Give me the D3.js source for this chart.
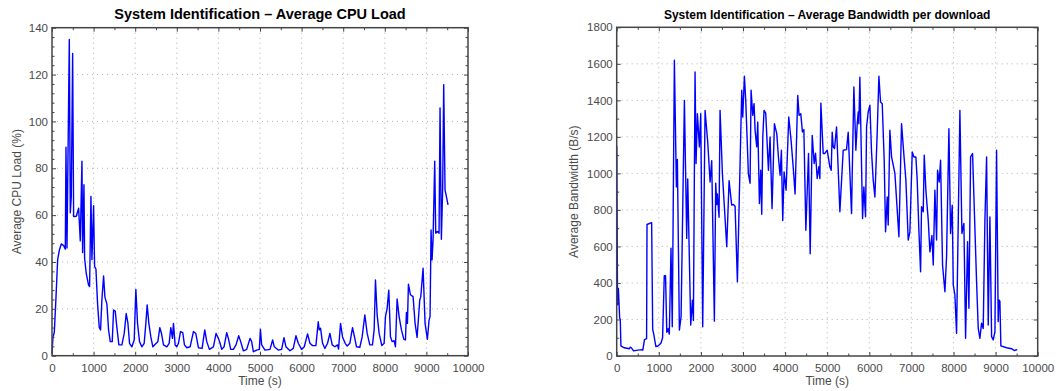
<!DOCTYPE html>
<html>
<head>
<meta charset="utf-8">
<script src="https://cdn.jsdelivr.net/npm/d3@7"></script>
<style>
  body { margin: 0; background: #fff; }
  text { font-family: "Liberation Sans", Arial, Helvetica, sans-serif; }
</style>
</head>
<body>
<svg id="chart" width="1061" height="391"></svg>
<script>
// CPU load samples (time s, load %)
const cpuTime = [0,24,56,96,136,176,224,280,320,336,360,416,440,464,496,520,584,640,680,720,736,768,784,824,880,904,936,960,1000,1024,1056,1096,1136,1168,1200,1240,1272,1320,1360,1400,1448,1480,1520,1560,1608,1680,1736,1784,1824,1864,1920,1976,2016,2056,2104,2160,2216,2256,2288,2328,2376,2424,2488,2544,2592,2632,2680,2760,2816,2856,2896,2920,2960,3000,3040,3088,3144,3184,3240,3320,3400,3456,3520,3608,3672,3720,3784,3880,3944,4000,4040,4080,4136,4200,4240,4296,4360,4424,4488,4536,4600,4680,4760,4800,4840,4920,4984,5010,5040,5120,5240,5304,5344,5440,5520,5576,5624,5720,5800,5864,5920,6000,6064,6144,6200,6264,6344,6400,6424,6456,6504,6560,6624,6680,6736,6800,6864,6888,6936,6984,7048,7096,7160,7224,7272,7320,7400,7456,7520,7576,7640,7704,7744,7776,7816,7864,7928,7984,8016,8056,8096,8136,8176,8224,8256,8296,8344,8400,8456,8496,8520,8544,8568,8616,8680,8728,8776,8840,8864,8920,8968,9024,9064,9088,9112,9136,9160,9200,9224,9264,9304,9328,9360,9392,9416,9448,9480,9520];
const cpuLoad = [1,8,10,25,41,45,47.7,47,45.5,89,46,135,61,68,129,59.4,59.5,63,49,83,44,73,41.6,35,30,29.5,68,41,64,38,37,22,12,11,24,34,25,22,11,6,6,19.5,19,12,4.6,4.6,9.5,18,14,5.3,3.8,6.7,28.3,13.8,6,3.8,5.3,13.8,21.7,13.8,8,3.8,5,6,12,9.5,4.6,3.8,5.3,12,7.4,13.8,4.6,3.8,5.3,10.3,9.8,4.6,3.4,3.8,10.3,9.5,3.4,3.1,11,6,2.7,3.8,9.5,7.4,5.3,2.7,3.8,9.8,7.4,2.7,2.7,4.6,8.5,6,2.1,2.7,7.4,6,1.7,2.4,2.7,11.3,4.6,2.4,2.7,6.7,3.8,2.4,2.7,7.7,3.8,2.1,3.1,8.5,5.3,2.7,3.8,9.3,5.3,4.3,4.3,14.5,11,11.7,5.3,3.1,5.3,9.5,4.6,3.8,4.6,2.8,13.8,8,5.3,4.1,5.3,12,8,3.8,3.6,8,17.4,9.5,4.6,4.6,11,32.3,17.4,9.5,4.3,5.3,16.7,20.2,28,8.1,6,6.4,3.8,24.2,16.7,11,7.1,6.7,18.5,13.8,30.5,26,25.2,13.8,7.8,23.8,25,37.3,13.8,7,15.2,16.7,53.7,40.9,49.4,83,52.3,53,52.3,105.7,49.7,72,115.7,70.8,68,64.4];

// Bandwidth samples (time s, B/s)
const bwTime = [0,20,40,70,85,100,180,300,320,350,400,500,600,620,660,710,720,830,855,880,930,980,1050,1090,1130,1160,1190,1220,1250,1290,1320,1370,1418,1441,1489,1529,1608,1663,1687,1758,1798,1822,1861,1885,1917,1964,1996,2043,2099,2162,2218,2257,2320,2352,2376,2392,2431,2455,2511,2614,2669,2732,2772,2812,2867,2970,2994,3033,3065,3128,3168,3192,3231,3263,3287,3326,3350,3390,3421,3445,3470,3500,3540,3604,3643,3690,3746,3802,3841,3881,3912,3944,3976,4023,4087,4142,4198,4237,4300,4332,4372,4411,4446,4493,4556,4596,4644,4691,4723,4762,4802,4826,4850,4905,4945,4968,5000,5063,5095,5119,5143,5174,5222,5301,5380,5459,5499,5578,5594,5634,5681,5713,5737,5752,5776,5840,5871,5911,5935,5974,6014,6053,6093,6133,6188,6228,6267,6307,6354,6386,6426,6449,6489,6529,6608,6703,6766,6822,6869,6924,6964,7020,7059,7107,7138,7178,7218,7241,7281,7305,7344,7400,7440,7487,7519,7558,7598,7622,7661,7693,7740,7796,7835,7891,7930,7970,7994,8033,8073,8152,8200,8247,8287,8334,8366,8406,8453,8548,8588,8627,8667,8706,8746,8786,8825,8865,8905,8944,8984,9023,9062,9078,9102,9125,9261,9380,9443,9514];
const bwRate = [1150,280,370,210,200,55,45,40,48,45,28,32,35,32,90,95,720,730,145,120,52,55,70,100,440,440,130,150,120,590,160,1620,926,1076,142,215,1400,644,970,170,306,195,1555,1054,1327,1145,1327,160,1345,1172,953,1070,191,946,830,887,760,1345,998,598,960,826,830,820,407,1455,1309,1532,1400,998,946,1455,1318,1382,1236,1145,1281,835,1017,776,1199,1345,1330,1017,1199,808,1272,1218,1090,990,1127,742,1008,908,1309,1181,1017,887,1427,1318,1327,1227,1240,689,1109,560,1208,1054,1110,972,1036,972,1385,1109,1109,1118,1127,1036,1017,1225,1145,1136,1254,790,1127,1130,1225,780,990,1473,1127,1272,1336,1272,1527,753,926,762,1254,1336,1373,1118,963,871,1225,1532,1391,1382,1072,680,871,717,1236,1090,1000,653,1272,1100,963,635,680,1118,1090,1090,963,689,461,817,790,1100,908,744,570,660,498,908,635,1017,953,1072,498,352,544,1245,671,826,389,334,124,1345,671,726,97,626,261,1090,1109,407,151,97,179,151,744,1090,170,762,106,88,133,1127,188,307,300,55,45,40,30,35];

const xTicks = [0,1000,2000,3000,4000,5000,6000,7000,8000,9000,10000];
const cpuTicks = [0,20,40,60,80,100,120,140];
const bwTicks = [0,200,400,600,800,1000,1200,1400,1600,1800];

const svg = d3.select("#chart");

function drawPanel(opt) {
  const x = d3.scaleLinear().domain([0, 10000]).range([opt.left, opt.right]);
  const y = d3.scaleLinear().domain([0, opt.yMax]).range([opt.bottom, opt.top]);
  const g = svg.append("g");

  // grid
  g.append("g").selectAll("line").data(xTicks.slice(1, -1)).join("line")
    .attr("x1", d => x(d)).attr("x2", d => x(d))
    .attr("y1", opt.top).attr("y2", opt.bottom)
    .attr("stroke", "#9a9a9a").attr("stroke-width", 0.8).attr("stroke-dasharray", "1,4");
  g.append("g").selectAll("line").data(opt.yTicks.slice(1, -1)).join("line")
    .attr("y1", d => y(d)).attr("y2", d => y(d))
    .attr("x1", opt.left).attr("x2", opt.right)
    .attr("stroke", "#9a9a9a").attr("stroke-width", 0.8).attr("stroke-dasharray", "1,4");

  // series
  g.append("path")
    .datum(d3.zip(opt.xs, opt.ys))
    .attr("fill", "none")
    .attr("stroke", "#0000ff")
    .attr("stroke-width", 1.4)
    .attr("stroke-linejoin", "round")
    .attr("d", d3.line().x(d => x(d[0])).y(d => y(d[1])));

  const xMinor = d3.range(500, 10000, 1000);
  const yMinor = d3.range(0, opt.yMax + 1e-9, opt.yMinor).filter(v => !opt.yTicks.includes(v));
  const fmt = d3.format("d");

  // axes (ticks inward)
  const axes = [
    [d3.axisBottom(x).tickValues(xTicks).tickSize(-4).tickPadding(8).tickFormat(fmt), `translate(0,${opt.bottom})`],
    [d3.axisBottom(x).tickValues(xMinor).tickSize(-2.5).tickFormat(""), `translate(0,${opt.bottom})`],
    [d3.axisTop(x).tickValues(xTicks).tickSize(-4).tickFormat(""), `translate(0,${opt.top})`],
    [d3.axisTop(x).tickValues(xMinor).tickSize(-2.5).tickFormat(""), `translate(0,${opt.top})`],
    [d3.axisLeft(y).tickValues(opt.yTicks).tickSize(-4).tickPadding(4).tickFormat(fmt), `translate(${opt.left},0)`],
    [d3.axisLeft(y).tickValues(yMinor).tickSize(-2.5).tickFormat(""), `translate(${opt.left},0)`],
    [d3.axisRight(y).tickValues(opt.yTicks).tickSize(-4).tickFormat(""), `translate(${opt.right},0)`],
    [d3.axisRight(y).tickValues(yMinor).tickSize(-2.5).tickFormat(""), `translate(${opt.right},0)`]
  ];
  axes.forEach(([ax, tr]) => {
    const a = g.append("g").attr("transform", tr).call(ax);
    a.select(".domain").remove();
    a.selectAll("line").attr("stroke", "#444").attr("stroke-width", 1);
    a.selectAll("text").attr("fill", "#4a4a4a").attr("font-size", 11.5)
      .attr("font-family", "'Liberation Sans', Arial, sans-serif");
  });

  g.append("rect")
    .attr("x", opt.left).attr("y", opt.top)
    .attr("width", opt.right - opt.left).attr("height", opt.bottom - opt.top)
    .attr("fill", "none").attr("stroke", "#444").attr("stroke-width", 1.5);

  g.append("text")
    .attr("x", (opt.left + opt.right) / 2).attr("y", 18.5)
    .attr("text-anchor", "middle").attr("font-weight", "bold")
    .attr("font-size", opt.titleSize).attr("fill", "#000")
    .text(opt.title);

  g.append("text")
    .attr("x", (opt.left + opt.right) / 2).attr("y", 385)
    .attr("text-anchor", "middle").attr("font-size", 12).attr("fill", "#4a4a4a")
    .text("Time (s)");

  g.append("text")
    .attr("transform", `translate(${opt.yLabelX},${(opt.top + opt.bottom) / 2}) rotate(-90)`)
    .attr("text-anchor", "middle").attr("font-size", 12).attr("fill", "#4a4a4a")
    .text(opt.yLabel);
}

drawPanel({
  left: 52, right: 468, top: 27.7, bottom: 355.7,
  yMax: 140, yTicks: cpuTicks, yMinor: 4,
  xs: cpuTime, ys: cpuLoad,
  title: "System Identification \u2013 Average CPU Load", titleSize: 14.5,
  yLabel: "Average CPU Load (%)", yLabelX: 21
});

drawPanel({
  left: 616.7, right: 1037.7, top: 27.3, bottom: 356,
  yMax: 1800, yTicks: bwTicks, yMinor: 100,
  xs: bwTime, ys: bwRate,
  title: "System Identification \u2013 Average Bandwidth per download", titleSize: 12,
  yLabel: "Average Bandwidth (B/s)", yLabelX: 578
});
</script>
</body>
</html>
